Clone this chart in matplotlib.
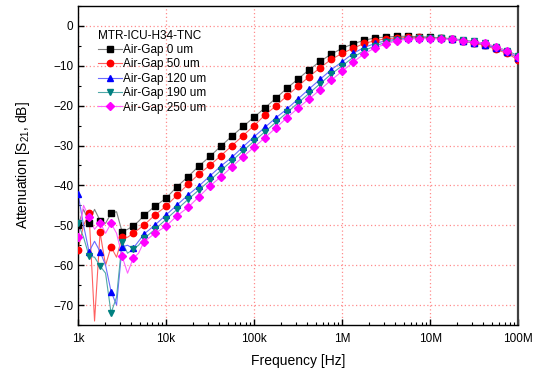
import numpy as np
import matplotlib
matplotlib.use("Agg")
import matplotlib.pyplot as plt
from matplotlib.ticker import FixedLocator, LogLocator, NullFormatter, MultipleLocator

plt.rcParams['font.family'] = ['Liberation Sans', 'DejaVu Sans']

# marker points, 8 per decade from 1 kHz to 100 MHz
freq = 10 ** (3 + np.arange(41) / 8.0)
# extra line points between the markers in the noisy low frequency part
freq_mid = 10 ** (3 + (np.arange(6) + 0.5) / 8.0)

gap0 = [-50.0, -49.3, -48.8, -47.0, -51.6, -50.2, -47.5, -45.2, -43.2, -40.3,
        -37.8, -35.1, -32.7, -30.1, -27.6, -25.2, -22.9, -20.5, -18.1, -15.6,
        -13.3, -11.0, -8.9, -7.1, -5.6, -4.5, -3.6, -3.0, -2.8, -2.6,
        -2.6, -2.7, -2.8, -3.0, -3.3, -3.7, -4.2, -4.7, -5.6, -6.5, -8.0]
gap50 = [-56.2, -47.0, -51.8, -55.4, -53.0, -52.0, -49.9, -47.4, -45.2, -42.4,
         -39.7, -37.1, -34.9, -32.5, -30.0, -27.5, -25.0, -22.3, -20.0, -17.5,
         -15.1, -12.7, -10.5, -8.4, -6.9, -5.6, -4.4, -3.7, -3.2, -3.0,
         -2.9, -2.9, -3.0, -3.1, -3.4, -3.8, -4.3, -4.9, -5.9, -6.9, -8.5]
gap120 = [-42.1, -56.6, -56.6, -66.6, -55.4, -55.8, -52.2, -49.9, -47.4, -44.9,
          -42.4, -40.1, -37.6, -35.1, -32.9, -30.3, -27.8, -25.4, -23.0, -20.8,
          -18.3, -15.8, -13.4, -11.0, -9.0, -6.9, -5.4, -4.4, -3.7, -3.3,
          -3.1, -3.0, -3.0, -3.1, -3.4, -3.8, -4.2, -4.7, -5.6, -6.6, -8.0]
gap190 = [-49.5, -57.7, -60.2, -72.0, -54.1, -56.0, -53.3, -51.0, -48.5, -46.0,
          -43.5, -41.1, -38.7, -36.2, -33.8, -31.3, -28.9, -26.5, -24.1, -21.7,
          -19.3, -16.9, -14.5, -12.1, -10.0, -7.9, -6.2, -5.0, -4.1, -3.5,
          -3.2, -3.1, -3.0, -3.0, -3.2, -3.5, -3.9, -4.4, -5.3, -6.2, -7.5]
gap250 = [-52.9, -48.0, -49.3, -49.5, -57.7, -58.3, -54.1, -52.0, -50.2, -47.6,
          -45.5, -42.8, -40.1, -37.8, -35.3, -32.8, -30.4, -28.0, -25.5, -23.0,
          -20.6, -18.3, -16.0, -13.6, -11.4, -9.1, -7.0, -5.5, -4.5, -3.7,
          -3.3, -3.2, -3.2, -3.3, -3.4, -3.7, -4.0, -4.4, -5.2, -6.4, -7.8]

mid0 = [-46.0, -46.0, -49.5, -46.6, -51.0, -49.0]
mid50 = [-50.0, -74.0, -60.0, -58.0, -53.0, -51.0]
mid120 = [-50.0, -54.0, -60.0, -70.0, -55.0, -54.0]
mid190 = [-53.0, -58.0, -62.0, -68.0, -57.0, -55.0]
mid250 = [-45.0, -51.0, -52.0, -52.0, -62.0, -57.0]

labels = ['Air-Gap 0 um', 'Air-Gap 50 um', 'Air-Gap 120 um',
          'Air-Gap 190 um', 'Air-Gap 250 um']
series = [gap0, gap50, gap120, gap190, gap250]
mids = [mid0, mid50, mid120, mid190, mid250]
marker_col = ['black', 'red', 'blue', '#008080', 'magenta']
line_col = ['#808080', '#ff6060', '#6a6aff', '#50a8a8', '#ff60ff']
markers = ['s', 'o', '^', 'v', 'D']
msizes = [4.3, 4.6, 5.0, 5.0, 4.0]

fig = plt.figure(figsize=(5.42, 3.74), dpi=100)
ax = fig.add_axes([0.144, 0.131, 0.812, 0.853])

for y, ym, lab, mc, lc, m, ms in zip(series, mids, labels, marker_col,
                                      line_col, markers, msizes):
    fx = np.concatenate([freq, freq_mid])
    fy = np.concatenate([y, ym])
    order = np.argsort(fx)
    ax.plot(fx[order], fy[order], color=lc, lw=0.8, zorder=2)
    ax.plot(freq, y, linestyle='none', marker=m, ms=ms, color=mc,
            mec=mc, zorder=3)
    # legend proxy
    ax.plot([], [], color=lc, lw=0.8, marker=m, ms=ms, mfc=mc, mec=mc,
            label=lab)

ax.set_xscale('log')
ax.set_xlim(1e3, 1e8)
ax.set_ylim(-75, 5)

ax.xaxis.set_major_locator(FixedLocator([1e3, 1e4, 1e5, 1e6, 1e7, 1e8]))
ax.set_xticklabels(['1k', '10k', '100k', '1M', '10M', '100M'])
ax.xaxis.set_minor_locator(LogLocator(base=10, subs=np.arange(2, 10)))
ax.xaxis.set_minor_formatter(NullFormatter())
ax.yaxis.set_major_locator(MultipleLocator(10))
ax.yaxis.set_minor_locator(MultipleLocator(5))
ax.set_yticks([0, -10, -20, -30, -40, -50, -60, -70])

ax.tick_params(which='both', direction='in', top=False, right=False,
               labelsize=8.5)
ax.tick_params(which='major', length=4, width=1)
ax.tick_params(which='minor', length=2.5, width=0.8)
ax.tick_params(axis='x', pad=6)

ax.grid(True, which='major', color='#ff7070', linestyle=(0, (1, 2)),
        linewidth=0.9, alpha=0.8)
ax.set_axisbelow(True)

for side in ['left', 'bottom', 'top']:
    ax.spines[side].set_linewidth(1.0)
ax.spines['right'].set_linewidth(1.6)
ax.spines['right'].set_color('#404040')

ax.set_xlabel('Frequency [Hz]', fontsize=10, labelpad=6)
ax.set_ylabel('Attenuation [S$_\\mathregular{21}$, dB]', fontsize=10,
              labelpad=15)

leg = ax.legend(loc='upper left', bbox_to_anchor=(0.032, 0.944),
                frameon=False, title='MTR-ICU-H34-TNC', fontsize=8.5,
                title_fontsize=8.5, handlelength=2.0, handletextpad=0.15,
                labelspacing=0.2, alignment='left', borderpad=0.0)

fig.savefig('out.png', dpi=100)
